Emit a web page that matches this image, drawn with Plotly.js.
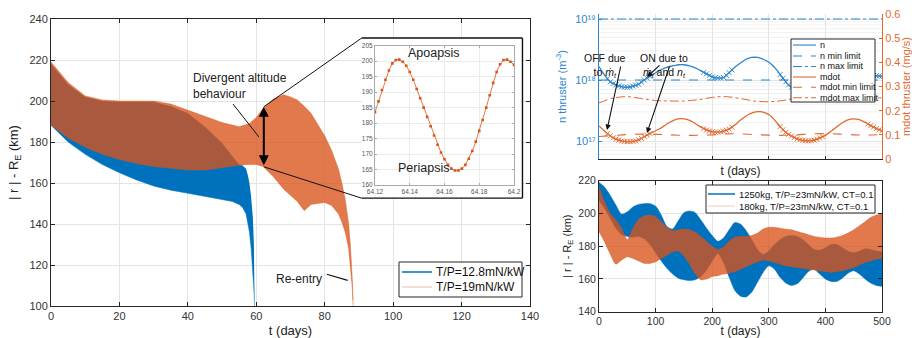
<!DOCTYPE html>
<html><head><meta charset="utf-8">
<script src="https://cdn.plot.ly/plotly-3.0.1.min.js"></script>
<style>html,body{margin:0;padding:0;background:#fff;}#chart{width:912px;height:338px;}</style>
</head><body><div id="chart"></div>
<script>
// ===== Main chart: altitude envelope (km) vs t (days) =====
const lowTpT = [0,5,10,15,20,25,30,35,40,45,50,53,55,56,57,57.5,58,58.5,59,59.3,59.5];
const lowTpUpper = [218,208,202,200,199.5,199.5,199.5,197.5,194,187.5,179.5,173,169,168.5,167,164,160,153,143,130,100];
const lowTpLower = [188.2,180,174,169,165,161.5,158.5,156.5,155,153.5,152,151,149.5,148,145,141,136,128,117,108,100];

const highTpT = [0,5,10,15,20,25,30,35,40,45,50,55,58,60,62,65,68,70,72,74,76,78,80,82,84,85,86,87,87.5,88,88.3];
const highTpUpper = [219,209,202.5,200.5,200,200,200,198.5,195.5,192.5,189.5,187.5,189,192,196.5,201,203,202,200.5,197.5,194,188.5,183,176,167,160,152,140,130,115,103];
const highTpLower = [188.2,182,177.5,174,171.5,169.5,168,167,166.3,166.3,167.5,168.7,169,169,168,163,157,154,151,146.5,149.5,150,150.5,149,145,141,136,128,120,110,100];

const mainSeriesNames = ['T/P=12.8mN/kW','T/P=19mN/kW'];

// ===== Inset: one orbit around t = 64.12..64.2 days =====
const insetT = [64.120,64.122,64.124,64.126,64.128,64.130,64.132,64.134,64.136,64.138,64.140,64.142,64.144,64.146,64.148,64.150,64.152,64.154,64.156,64.158,64.160,64.162,64.164,64.166,64.168,64.170,64.172,64.174,64.176,64.178,64.180,64.182,64.184,64.186,64.188,64.190,64.192,64.194,64.196,64.198,64.200];
const insetAlt = [183.5,187,190.7,194,197,199.3,200.4,200.5,199.8,198.5,196.5,194,191,188,185,182,179,176,173,170.5,168.3,166.5,165.3,164.7,164.7,165.3,166.5,168.5,171,174,177.5,181,185,189,193,196.5,199,200.4,200.5,199.8,198.8];
const insetTickVals = [64.12,64.14,64.16,64.18,64.2];
const insetTickText = ['64.12','64.14','64.16','64.18','64.2'];

// ===== Top right: thruster density (m^-3) and mass flow (mg/s) =====
const thrT = [0,5,10,15,20,25,30,35,40,45,50,55,60,65,70,75,80,85,90,95,100,105,110,115,120,125,130,135,140,145,150,155,160,165,170,175,180,185,190,195,200,205,210,215,220,225,230,235,240,245,250,255,260,265,270,275,280,285,290,295,300,305,310,315,320,325,330,335,340,345,350,355,360,365,370,375,380,385,390,395,400,405,410,415,420,425,430,435,440,445,450,455,460,465,470,475,480,485,490,495,500];
const nThruster = [1.66e18,1.40e18,1.202e18,1.05e18,9.33e17,8.75e17,8.32e17,7.98e17,7.76e17,7.64e17,
  7.59e17,7.68e17,7.94e17,8.18e17,8.51e17,9.2e17,1.0e18,1.07e18,1.148e18,1.23e18,
  1.318e18,1.40e18,1.479e18,1.555e18,1.622e18,1.665e18,1.698e18,1.74e18,1.778e18,1.79e18,
  1.778e18,1.745e18,1.698e18,1.645e18,1.585e18,1.50e18,1.413e18,1.335e18,1.259e18,1.19e18,
  1.122e18,1.09e18,1.072e18,1.075e18,1.096e18,1.19e18,1.318e18,1.46e18,1.622e18,1.76e18,
  1.905e18,2.05e18,2.188e18,2.28e18,2.344e18,2.36e18,2.344e18,2.28e18,2.188e18,2.08e18,
  1.95e18,1.79e18,1.622e18,1.42e18,1.23e18,1.07e18,9.33e17,8.3e17,7.59e17,7.2e17,
  6.92e17,6.8e17,6.76e17,6.9e17,7.24e17,7.7e17,8.32e17,9.1e17,1.0e18,1.1e18,
  1.202e18,1.31e18,1.413e18,1.5e18,1.585e18,1.635e18,1.66e18,1.65e18,1.622e18,1.57e18,
  1.514e18,1.45e18,1.38e18,1.315e18,1.259e18,1.225e18,1.202e18,1.185e18,1.175e18,1.16e18,1.148e18];
const mdot = [0.137,0.126,0.115,0.105,0.096,0.088,0.082,0.078,0.075,0.073,
  0.072,0.072,0.073,0.075,0.079,0.085,0.093,0.099,0.105,0.111,
  0.117,0.123,0.129,0.137,0.145,0.152,0.158,0.163,0.166,0.167,
  0.166,0.164,0.160,0.154,0.147,0.139,0.132,0.126,0.120,0.116,
  0.113,0.111,0.111,0.112,0.115,0.119,0.124,0.132,0.141,0.151,
  0.161,0.170,0.178,0.185,0.190,0.194,0.196,0.196,0.194,0.190,
  0.184,0.174,0.162,0.148,0.134,0.121,0.110,0.102,0.095,0.089,
  0.083,0.080,0.077,0.076,0.075,0.076,0.078,0.082,0.087,0.092,
  0.098,0.106,0.115,0.124,0.133,0.142,0.150,0.157,0.162,0.165,
  0.166,0.165,0.163,0.158,0.152,0.145,0.138,0.132,0.126,0.121,0.117];
const limEndsT = [0,500];
const nMinLimit = [1e18,1e18];
const nMaxLimit = [1e19,1e19];
const limT = [0,25,50,75,100,125,150,175,200,225,250,275,300,325,350,375,400,425,450,475,500];
const mdotMinLimit = [0.093,0.097,0.101,0.103,0.102,0.1,0.098,0.098,0.1,0.104,0.104,0.101,0.099,0.098,0.1,0.104,0.105,0.103,0.1,0.099,0.101];
const mdotMaxLimit = [0.232,0.252,0.258,0.25,0.242,0.24,0.24,0.245,0.255,0.258,0.25,0.24,0.237,0.242,0.252,0.258,0.255,0.246,0.24,0.245,0.255];
const offIntervals = [[15,90],[185,235],[320,395],[475,500]];
const nTickVals = [1e17,1e18,1e19];
const nTickText = ['10¹⁷','10¹⁸','10¹⁹'];
const nMinorGrid = [2e16,3e16,4e16,5e16,6e16,7e16,8e16,9e16,2e17,3e17,4e17,5e17,6e17,7e17,8e17,9e17,2e18,3e18,4e18,5e18,6e18,7e18,8e18,9e18];
const thrSeriesNames = ['n','n min limit','n max limit','mdot','mdot min limit','mdot max limit'];

// ===== Bottom right: altitude envelopes for two masses =====
const longT = [0,10,20,30,40,50,60,70,80,90,100,110,120,130,140,150,160,170,180,190,200,210,220,230,240,250,260,270,280,290,300,310,320,330,340,350,360,370,380,390,400,410,420,430,440,450,460,470,480,490,500];
const heavyUpper = [219,216,211,205,199.5,201,204,205.5,206,206,204.5,199,192,190.5,195.5,200.5,201.5,200.5,196,191,186.5,183,185,190,194.5,193.5,189.5,184,178,175,177,181,184,186,186.5,186,184,181,178,177.5,179,181,181,179,177,176,177,178.5,178,177,176.5];
const heavyLower = [208,203,197,191,187,186,185.5,186,184.5,181,176,171,166.5,163,160.5,159.5,159,159.5,161.5,165.5,171,175.5,170,161,153,149.5,149,152,158,164,168,166,161,157.5,156,157,160.5,164.5,166,163,160,158.5,158.5,160.5,163.5,165,163,160,157.5,156,155.5];
const lightUpper = [216,207,200,196,191,184,191,196.5,198.5,199,198,195,191.5,189.5,190,190.5,190,188.5,186,183,180,178,179.5,183,185.5,186,186,186.5,188,190.5,191.5,191.5,191,190.5,190,189,188,187,186,185.5,185,185,185.5,186.5,188,190,192.5,195,197.5,199,200];
const lightLower = [189,182.5,175,169,171.5,173.5,172.5,171,169.5,169.5,170.5,172.5,174.5,176.5,177,174,169,163,159.5,160,161.5,162,163,163.5,164.5,166,167.5,169,170.5,171.5,171,170,169,168,167.5,167,166.5,166,165.5,165,164.5,164,164.5,165,166,167,168.5,170,171,172,172.5];
const longSeriesNames = ['1250kg, T/P=23mN/kW, CT=0.1','180kg, T/P=23mN/kW, CT=0.1'];

// ===== styling =====
const W = 912, H = 338;
const FONT = 'Liberation Sans, Arial, Helvetica, sans-serif';
const BLUE = '#0072BD', ORANGE = '#D95319', BAND_OR = 'rgba(217,83,25,0.78)';
const TBLUE = '#2b86cc', TORANGE = '#e06a32';
const AX = '#262626', GRID = '#e4e4e4';

const isOff = t => offIntervals.some(([a,b]) => t >= a && t <= b);
const offIdx = thrT.map((t,i) => i).filter(i => isOff(thrT[i]));

const traces = [
  {x: lowTpT, y: lowTpLower, xaxis:'x', yaxis:'y', mode:'lines', line:{color:BLUE,width:0.5}, name:mainSeriesNames[0], showlegend:false, hoverinfo:'skip'},
  {x: lowTpT, y: lowTpUpper, xaxis:'x', yaxis:'y', mode:'lines', fill:'tonexty', fillcolor:BLUE, line:{color:BLUE,width:0}, name:mainSeriesNames[0], showlegend:false},
  {x: highTpT, y: highTpLower, xaxis:'x', yaxis:'y', mode:'lines', line:{color:BAND_OR,width:0.5}, name:mainSeriesNames[1], showlegend:false, hoverinfo:'skip'},
  {x: highTpT, y: highTpUpper, xaxis:'x', yaxis:'y', mode:'lines', fill:'tonexty', fillcolor:BAND_OR, line:{color:BAND_OR,width:0.5}, name:mainSeriesNames[1], showlegend:false},

  {x: insetT, y: insetAlt, xaxis:'x2', yaxis:'y2', mode:'lines+markers', line:{color:ORANGE,width:0.8}, marker:{color:ORANGE,size:2.6,symbol:'square'}, showlegend:false, name:'inset'},

  {x: thrT, y: nThruster, xaxis:'x3', yaxis:'y3', mode:'lines', line:{color:TBLUE,width:1.3,shape:'spline',smoothing:0.5}, name:thrSeriesNames[0], showlegend:false},
  {x: offIdx.map(i=>thrT[i]), y: offIdx.map(i=>nThruster[i]), xaxis:'x3', yaxis:'y3', mode:'markers', marker:{symbol:'x-thin',size:5,line:{color:TBLUE,width:0.9}}, showlegend:false, name:'n off'},
  {x: limEndsT, y: nMinLimit, xaxis:'x3', yaxis:'y3', mode:'lines', line:{color:TBLUE,width:1.1,dash:'dash'}, name:thrSeriesNames[1], showlegend:false},
  {x: limEndsT, y: nMaxLimit, xaxis:'x3', yaxis:'y3', mode:'lines', line:{color:TBLUE,width:1,dash:'dashdot'}, name:thrSeriesNames[2], showlegend:false},
  {x: thrT, y: mdot, xaxis:'x3', yaxis:'y4', mode:'lines', line:{color:TORANGE,width:1.3,shape:'spline',smoothing:0.5}, name:thrSeriesNames[3], showlegend:false},
  {x: offIdx.map(i=>thrT[i]), y: offIdx.map(i=>mdot[i]), xaxis:'x3', yaxis:'y4', mode:'markers', marker:{symbol:'x-thin',size:5,line:{color:TORANGE,width:0.9}}, showlegend:false, name:'mdot off'},
  {x: limT, y: mdotMinLimit, xaxis:'x3', yaxis:'y4', mode:'lines', line:{color:TORANGE,width:1.1,dash:'dash',shape:'spline'}, name:thrSeriesNames[4], showlegend:false},
  {x: limT, y: mdotMaxLimit, xaxis:'x3', yaxis:'y4', mode:'lines', line:{color:TORANGE,width:1,dash:'dashdot',shape:'spline'}, name:thrSeriesNames[5], showlegend:false},

  {x: longT, y: heavyLower, xaxis:'x5', yaxis:'y5', mode:'lines', line:{color:BLUE,width:0.5,shape:'spline',smoothing:0.7}, name:longSeriesNames[0], showlegend:false, hoverinfo:'skip'},
  {x: longT, y: heavyUpper, xaxis:'x5', yaxis:'y5', mode:'lines', fill:'tonexty', fillcolor:BLUE, line:{color:BLUE,width:0.5,shape:'spline',smoothing:0.7}, name:longSeriesNames[0], showlegend:false},
  {x: longT, y: lightLower, xaxis:'x5', yaxis:'y5', mode:'lines', line:{color:BAND_OR,width:0.5,shape:'spline',smoothing:0.7}, name:longSeriesNames[1], showlegend:false, hoverinfo:'skip'},
  {x: longT, y: lightUpper, xaxis:'x5', yaxis:'y5', mode:'lines', fill:'tonexty', fillcolor:BAND_OR, line:{color:BAND_OR,width:0.5,shape:'spline',smoothing:0.7}, name:longSeriesNames[1], showlegend:false}
];

const dom = (a,b) => [a/W, b/W];
const domY = (top,bottom) => [1-bottom/H, 1-top/H];
function boxAxis(extra){
  return Object.assign({showline:true, linecolor:AX, linewidth:1, mirror:'ticks', ticks:'inside', ticklen:4, tickcolor:AX,
    showgrid:true, gridcolor:GRID, gridwidth:1, zeroline:false, tickfont:{family:FONT,size:11,color:'#333'}}, extra);
}

const layout = {
  width:W, height:H, margin:{l:0,r:0,t:0,b:0}, paper_bgcolor:'#fff', plot_bgcolor:'#fff',
  font:{family:FONT, color:'#222'}, showlegend:false,
  xaxis: boxAxis({domain:dom(51,530), anchor:'y', range:[0,140], dtick:20,
    title:{text:'t (days)', font:{size:13,color:'#222'}, standoff:4}}),
  yaxis: boxAxis({domain:domY(19,306), anchor:'x', range:[100,240], dtick:20,
    title:{text:'| r | - R<sub>E</sub> (km)', font:{size:13,color:'#222'}, standoff:7}}),
  xaxis2: boxAxis({domain:dom(375,514), anchor:'y2', range:[64.12,64.2], tickvals:insetTickVals, ticktext:insetTickText,
    linecolor:'#aaa', tickcolor:'#aaa', ticklen:2, gridcolor:'#ececec', tickfont:{family:FONT,size:6.5,color:'#555'}}),
  yaxis2: boxAxis({domain:domY(45.7,185), anchor:'x2', range:[160,205], dtick:5,
    linecolor:'#aaa', tickcolor:'#aaa', ticklen:2, gridcolor:'#ececec', tickfont:{family:FONT,size:6.5,color:'#555'}}),
  xaxis3: {domain:dom(599,882), anchor:'y3', range:[0,500], dtick:100, showticklabels:false, showline:true, linecolor:AX,
    ticks:'inside', ticklen:3, tickcolor:AX, showgrid:true, gridcolor:GRID, zeroline:false,
    title:{text:'t (days)', font:{size:12,color:'#222'}, standoff:7}},
  yaxis3: {domain:domY(14,159), anchor:'x3', type:'log', range:[16.705,19.082], tickvals:nTickVals, ticktext:nTickText,
    showline:true, linecolor:TBLUE, linewidth:1, ticks:'inside', ticklen:3, tickcolor:TBLUE,
    showgrid:true, gridcolor:GRID, zeroline:false, tickfont:{family:FONT,size:11,color:TBLUE},
    title:{text:'n thruster (m<sup>-3</sup>)', font:{size:11,color:TBLUE}, standoff:6}},
  yaxis4: {anchor:'x3', overlaying:'y3', side:'right', range:[0,0.6], dtick:0.1, showline:true, linecolor:TORANGE, linewidth:1,
    ticks:'inside', ticklen:3, tickcolor:TORANGE, showgrid:false, zeroline:false, tickfont:{family:FONT,size:11,color:TORANGE},
    title:{text:'mdot thruster (mg/s)', font:{size:11,color:TORANGE}, standoff:3}},
  xaxis5: boxAxis({domain:dom(599,882), anchor:'y5', range:[0,500], dtick:100, tickfont:{family:FONT,size:10.5,color:'#333'},
    title:{text:'t (days)', font:{size:12,color:'#222'}, standoff:1}}),
  yaxis5: boxAxis({domain:domY(180.7,311.7), anchor:'x5', range:[140,220], dtick:20, tickfont:{family:FONT,size:10.5,color:'#333'},
    title:{text:'| r | - R<sub>E</sub> (km)', font:{size:11,color:'#222'}, standoff:4}}),
  shapes:[], annotations:[]
};

const S = layout.shapes, A = layout.annotations;
// faint minor log grid lines of the thruster-density axis
nMinorGrid.forEach(v => S.push({type:'line', xref:'x3 domain', yref:'y3', x0:0, x1:1, y0:v, y1:v, line:{color:'#f1f1f1',width:1}, layer:'below'}));

// inset frame on main axes
const boxL = 90.8, boxR = 137.8, boxT = 230.7, boxB = 152.6;
S.push({type:'rect', xref:'x', yref:'y', x0:boxL, x1:boxR, y0:boxB, y1:boxT, fillcolor:'#fff', line:{width:0}, layer:'between'});
const mline = (x0,y0,x1,y1,w) => ({type:'line', xref:'x', yref:'y', x0,y0,x1,y1, line:{color:'#111',width:w}, layer:'above'});
S.push(mline(boxL,boxT,boxR,boxT,1.4), mline(boxR,boxT,boxR,boxB,1.4), mline(boxR,boxB,boxL,boxB,1.4));
S.push(mline(62.2,197.2,boxL,boxT,1), mline(62.2,167.9,boxL,boxB,1));
S.push(mline(53.2,198.5,60.8,182.4,1), mline(80.6,115.5,86.7,112.5,1.1));

A.push({xref:'x', yref:'y', x:62.2, y:197.2, axref:'x', ayref:'y', ax:62.2, ay:167.9, text:'', showarrow:true,
  arrowside:'end+start', arrowhead:2, arrowsize:1, arrowwidth:2, arrowcolor:'#000'});
A.push({xref:'x', yref:'y', x:40.9, y:207.3, text:'Divergent altitude<br>behaviour', showarrow:false, xanchor:'left', align:'left',
  font:{family:FONT,size:12,color:'#222'}});
A.push({xref:'x', yref:'y', x:72.4, y:113, text:'Re-entry', showarrow:false, font:{family:FONT,size:12,color:'#222'}});
A.push({xref:'x2', yref:'y2', x:64.1534, y:202.6, text:'Apoapsis', showarrow:false, font:{family:FONT,size:12.5,color:'#222'}});
A.push({xref:'x2', yref:'y2', x:64.1479, y:165.4, text:'Periapsis', showarrow:false, font:{family:FONT,size:12.5,color:'#222'}});

// top-right annotations
const px = v => v/W, py = v => 1 - v/H;
const MD = '<i>ṁ</i><sub><i>t</i></sub>', NT = '<i>n</i><sub><i>t</i></sub>';
A.push({xref:'paper', yref:'paper', x:px(628), y:py(50), text:'OFF due<br>to '+MD, showarrow:false, font:{family:FONT,size:10.5,color:'#111'}});
A.push({xref:'paper', yref:'paper', x:px(690), y:py(50), text:'ON due to<br>'+MD+' and '+NT, showarrow:false, font:{family:FONT,size:10.5,color:'#111'}});
const arrow = (hx,hy,tx,ty) => ({xref:'paper', yref:'paper', x:px(hx), y:py(hy), ax:tx-hx, ay:ty-hy, text:'', showarrow:true,
  arrowhead:2, arrowsize:1, arrowwidth:1.1, arrowcolor:'#111'});
A.push(arrow(607,130,621,65), arrow(647,133,670,65), arrow(647,77,661,64));

// manual legends
function legendBox(x0,y0,x1,y1){ S.push({type:'rect', xref:'paper', yref:'paper', x0:px(x0), x1:px(x1), y0:py(y1), y1:py(y0), fillcolor:'#fff', line:{color:AX,width:1}, layer:'above'}); }
function legendItem(x0,x1,y,color,dash,width,text,size){
  S.push({type:'line', xref:'paper', yref:'paper', x0:px(x0), x1:px(x1), y0:py(y), y1:py(y), line:{color,dash,width}, layer:'above'});
  A.push({xref:'paper', yref:'paper', x:px(x1+2), y:py(y), text, showarrow:false, xanchor:'left', yanchor:'middle', font:{family:FONT,size,color:'#111'}});
}
legendBox(399,262,522,297);
legendItem(402,432,272,BLUE,'solid',1.5,mainSeriesNames[0],12);
legendItem(402,432,287,'rgba(217,83,25,0.25)','solid',1.5,mainSeriesNames[1],12);

legendBox(791,39,875,102);
const legY = [45,56,66.5,77,87.3,97.7];
const legStyle = [[TBLUE,'solid'],[TBLUE,'dash'],[TBLUE,'dashdot'],[TORANGE,'solid'],[TORANGE,'dash'],[TORANGE,'dashdot']];
thrSeriesNames.forEach((n,i)=>legendItem(793,816,legY[i],legStyle[i][0],legStyle[i][1],1.1,n,9));

legendBox(706,185,875,213);
legendItem(708,735,194,BLUE,'solid',1.5,longSeriesNames[0],9.5);
legendItem(708,735,206,'rgba(217,83,25,0.2)','solid',1.5,longSeriesNames[1],9.5);

Plotly.newPlot('chart', traces, layout, {staticPlot:true, displayModeBar:false});
</script></body></html>
